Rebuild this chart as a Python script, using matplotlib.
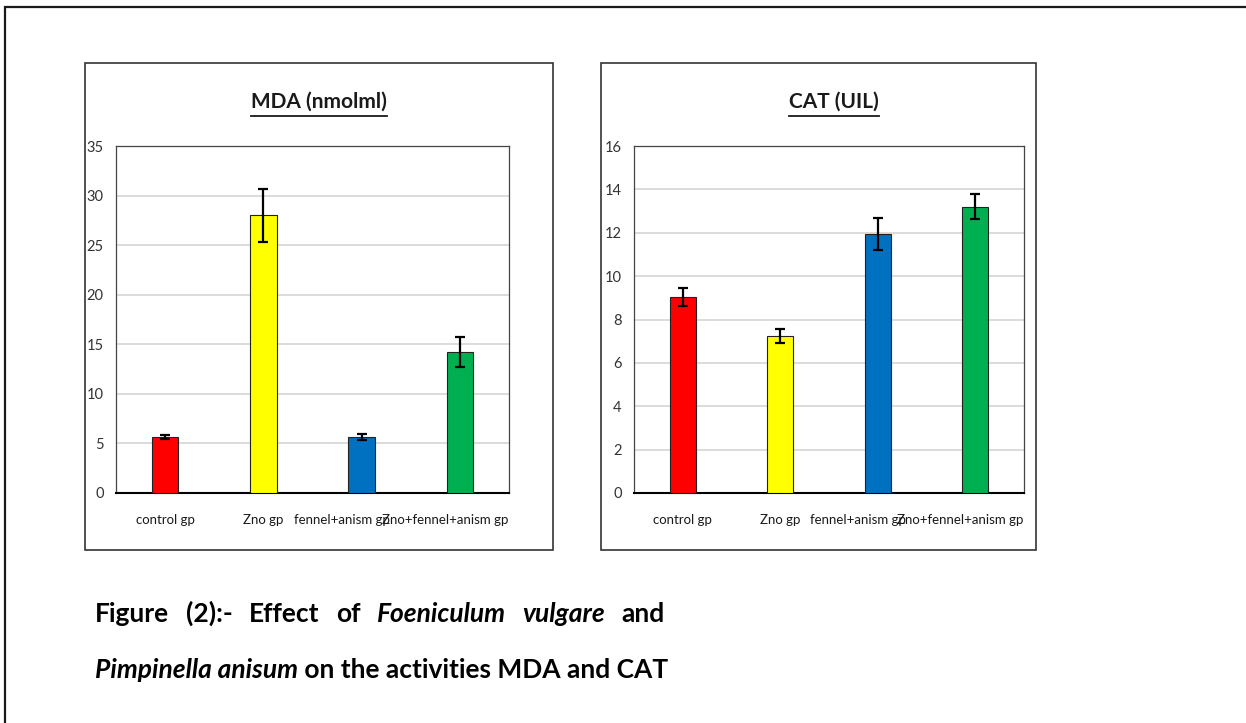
import matplotlib
matplotlib.use("Agg")
import matplotlib.pyplot as plt
from matplotlib.patches import Rectangle
from matplotlib.lines import Line2D
import matplotlib.transforms as mtransforms

# ---------------- data ----------------
categories = ["control gp", "Zno gp", "fennel+anism gp", "Zno+fennel+anism gp"]
bar_colors = ["#ff0000", "#ffff00", "#0070c0", "#00b050"]

mda_values = [5.65, 28.0, 5.65, 14.2]
mda_errors = [0.2, 2.65, 0.35, 1.5]
mda_ticks = [0, 5, 10, 15, 20, 25, 30, 35]

cat_values = [9.05, 7.25, 11.95, 13.2]
cat_errors = [0.42, 0.33, 0.75, 0.57]
cat_ticks = [0, 2, 4, 6, 8, 10, 12, 14, 16]

mda_title = "MDA (nmolml)"
cat_title = "CAT (UIL)"

caption_line1 = [("Figure", "normal"), ("(2):-", "normal"), ("Effect", "normal"),
                 ("of", "normal"), ("Foeniculum", "italic"), ("vulgare", "italic"),
                 ("and", "normal")]
caption_line2 = [("Pimpinella anisum", "italic"), (" on the activities MDA and CAT", "normal")]

# ---------------- figure ----------------
W, H = 1246, 723
plt.rcParams["font.family"] = ["Lato", "DejaVu Sans"]

fig = plt.figure(figsize=(W / 100, H / 100), dpi=100)
fig.patch.set_facecolor("white")


def px_rect(l, t, r, b):
    return [l / W, 1 - b / H, (r - l) / W, (b - t) / H]


def fx(x):
    return x / W


def fy(y):
    return 1 - y / H


# outer border
fig.add_artist(Rectangle((fx(5), fy(H + 10)), fx(W + 10), (H + 3) / H,
                         transform=fig.transFigure, fill=False,
                         edgecolor="#1a1a1a", lw=1.6))

# panel boxes
for (l, t, r, b) in [(85, 63, 553, 550), (601, 63, 1036, 550)]:
    fig.add_artist(Rectangle((fx(l), fy(b)), fx(r - l), (b - t) / H,
                             transform=fig.transFigure, fill=False,
                             edgecolor="#333333", lw=1.2))

label_shift_px = [0, 0, -20, -15]


def make_panel(rect, values, errors, ticks, title, title_x):
    ax = fig.add_axes(px_rect(*rect))
    x = list(range(len(categories)))
    ax.bar(x, values, width=0.27, color=bar_colors, edgecolor="#222222",
           linewidth=0.8, zorder=3)
    ax.errorbar(x, values, yerr=errors, fmt="none", ecolor="black",
                elinewidth=1.6, capsize=3.5, capthick=1.6, zorder=4)
    ax.set_xlim(-0.5, len(categories) - 0.5)
    ax.set_ylim(ticks[0], ticks[-1])
    ax.set_yticks(ticks)
    ax.set_yticklabels([str(t) for t in ticks])
    ax.set_xticks(x)
    ax.set_xticklabels(categories)
    ax.yaxis.grid(True, color="#d9d9d9", lw=1.3, zorder=0)
    ax.set_axisbelow(True)
    ax.tick_params(axis="both", length=0)
    ax.tick_params(axis="y", pad=9, labelsize=10.5, labelcolor="#333333")
    ax.tick_params(axis="x", pad=15, labelsize=9.5, labelcolor="#1a1a1a")
    for s in ["top", "right", "left"]:
        ax.spines[s].set_color("#444444")
        ax.spines[s].set_linewidth(0.9)
    ax.spines["bottom"].set_color("black")
    ax.spines["bottom"].set_linewidth(1.5)
    for lab, dx in zip(ax.get_xticklabels(), label_shift_px):
        lab.set_transform(lab.get_transform() +
                          mtransforms.ScaledTranslation(dx / 100, 0, fig.dpi_scale_trans))
    t = fig.text(fx(title_x), fy(102), title, ha="center", va="center",
                 fontsize=15, fontweight="bold", color="#1a1a1a")
    return ax, t


ax1, t1 = make_panel((116, 146, 509, 493), mda_values, mda_errors, mda_ticks, mda_title, 319)
ax2, t2 = make_panel((634, 146, 1024, 493), cat_values, cat_errors, cat_ticks, cat_title, 834)

# caption
cap_size = 19
texts1 = []
for word, style in caption_line1:
    texts1.append(fig.text(0, fy(622), word, ha="left", va="baseline",
                           fontsize=cap_size, fontweight="bold", style=style,
                           color="black"))
texts2 = []
for word, style in caption_line2:
    texts2.append(fig.text(0, fy(678), word, ha="left", va="baseline",
                           fontsize=cap_size, fontweight="bold", style=style,
                           color="black"))

fig.canvas.draw()
renderer = fig.canvas.get_renderer()

# justify line 1 between x=95 and x=665
widths = [t.get_window_extent(renderer).width for t in texts1]
x_left, x_right = 95, 665
gap = (x_right - x_left - sum(widths)) / (len(texts1) - 1)
xc = x_left
for t, w in zip(texts1, widths):
    t.set_x(fx(xc))
    xc += w + gap

# line 2 flows left to right
xc = 95
for t in texts2:
    t.set_x(fx(xc))
    xc += t.get_window_extent(renderer).width

# underline titles
fig.canvas.draw()
for t in (t1, t2):
    bb = t.get_window_extent(renderer)
    fig.add_artist(Line2D([bb.x0 / W, bb.x1 / W], [fy(116), fy(116)],
                          transform=fig.transFigure, color="#1a1a1a", lw=1.3))

fig.savefig("out.png", dpi=100, facecolor="white")
